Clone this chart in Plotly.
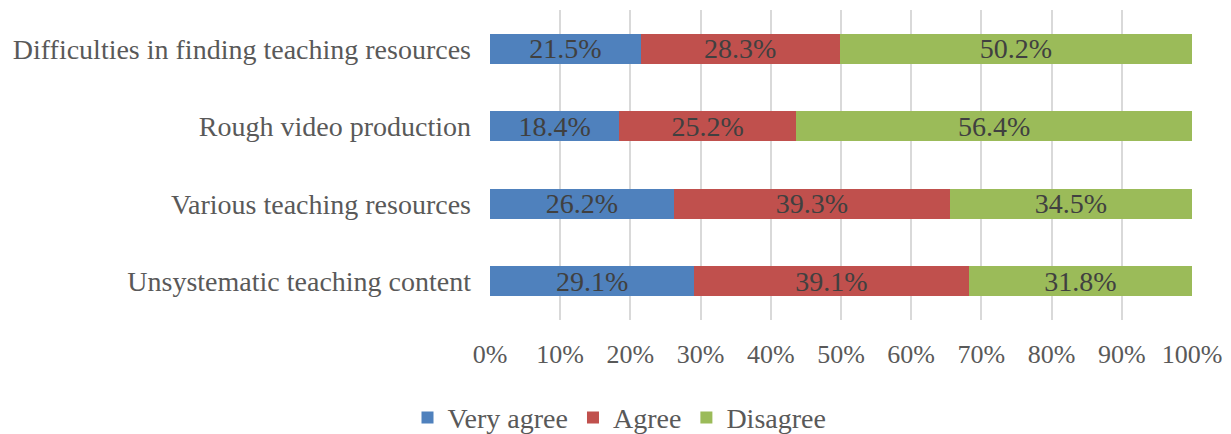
import plotly.graph_objects as go

categories = ["Unsystematic teaching content", "Various teaching resources",
              "Rough video production", "Difficulties in finding teaching resources"]
very_agree = [29.1, 26.2, 18.4, 21.5]
agree = [39.1, 39.3, 25.2, 28.3]
disagree = [31.8, 34.5, 56.4, 50.2]
series_names = ["Very agree", "Agree", "Disagree"]
colors = ["#4F81BD", "#C0504D", "#9BBB59"]
tick_vals = [0, 10, 20, 30, 40, 50, 60, 70, 80, 90, 100]
tick_text = [f"{v}%" for v in tick_vals]

font_family = "Liberation Serif, Times New Roman, serif"
fig = go.Figure()
for name, vals, col in zip(series_names, [very_agree, agree, disagree], colors):
    fig.add_trace(go.Bar(
        y=categories, x=vals, name=name, orientation="h",
        marker=dict(color=col, line=dict(width=0)),
        text=[f"{v:.1f}%" for v in vals], textposition="inside",
        insidetextanchor="middle",
        textfont=dict(family=font_family, size=28, color="#404040"),
    ))

fig.update_layout(
    barmode="stack", bargap=0.61,
    width=1223, height=426,
    margin=dict(l=482, r=39, t=2, b=114),
    paper_bgcolor="white", plot_bgcolor="white",
    font=dict(family=font_family, size=28, color="#595959"),
    uniformtext=dict(mode="show", minsize=28),
    legend=dict(orientation="h", xref="container", yref="container",
                x=0.5, xanchor="center", y=0.038, yanchor="middle",
                font=dict(size=28, color="#595959"), traceorder="normal",
                itemwidth=30),
    xaxis=dict(range=[0, 100], tickvals=tick_vals, ticktext=tick_text,
               showgrid=True, gridcolor="#D9D9D9", gridwidth=1.5,
               zeroline=False, showline=False, ticks="",
               tickfont=dict(size=26), ticklabelstandoff=16, fixedrange=True),
    yaxis=dict(showgrid=False, showline=False, ticks="", ticklabelstandoff=18,
               categoryorder="array", categoryarray=categories),
)
fig.write_html("out.html")
